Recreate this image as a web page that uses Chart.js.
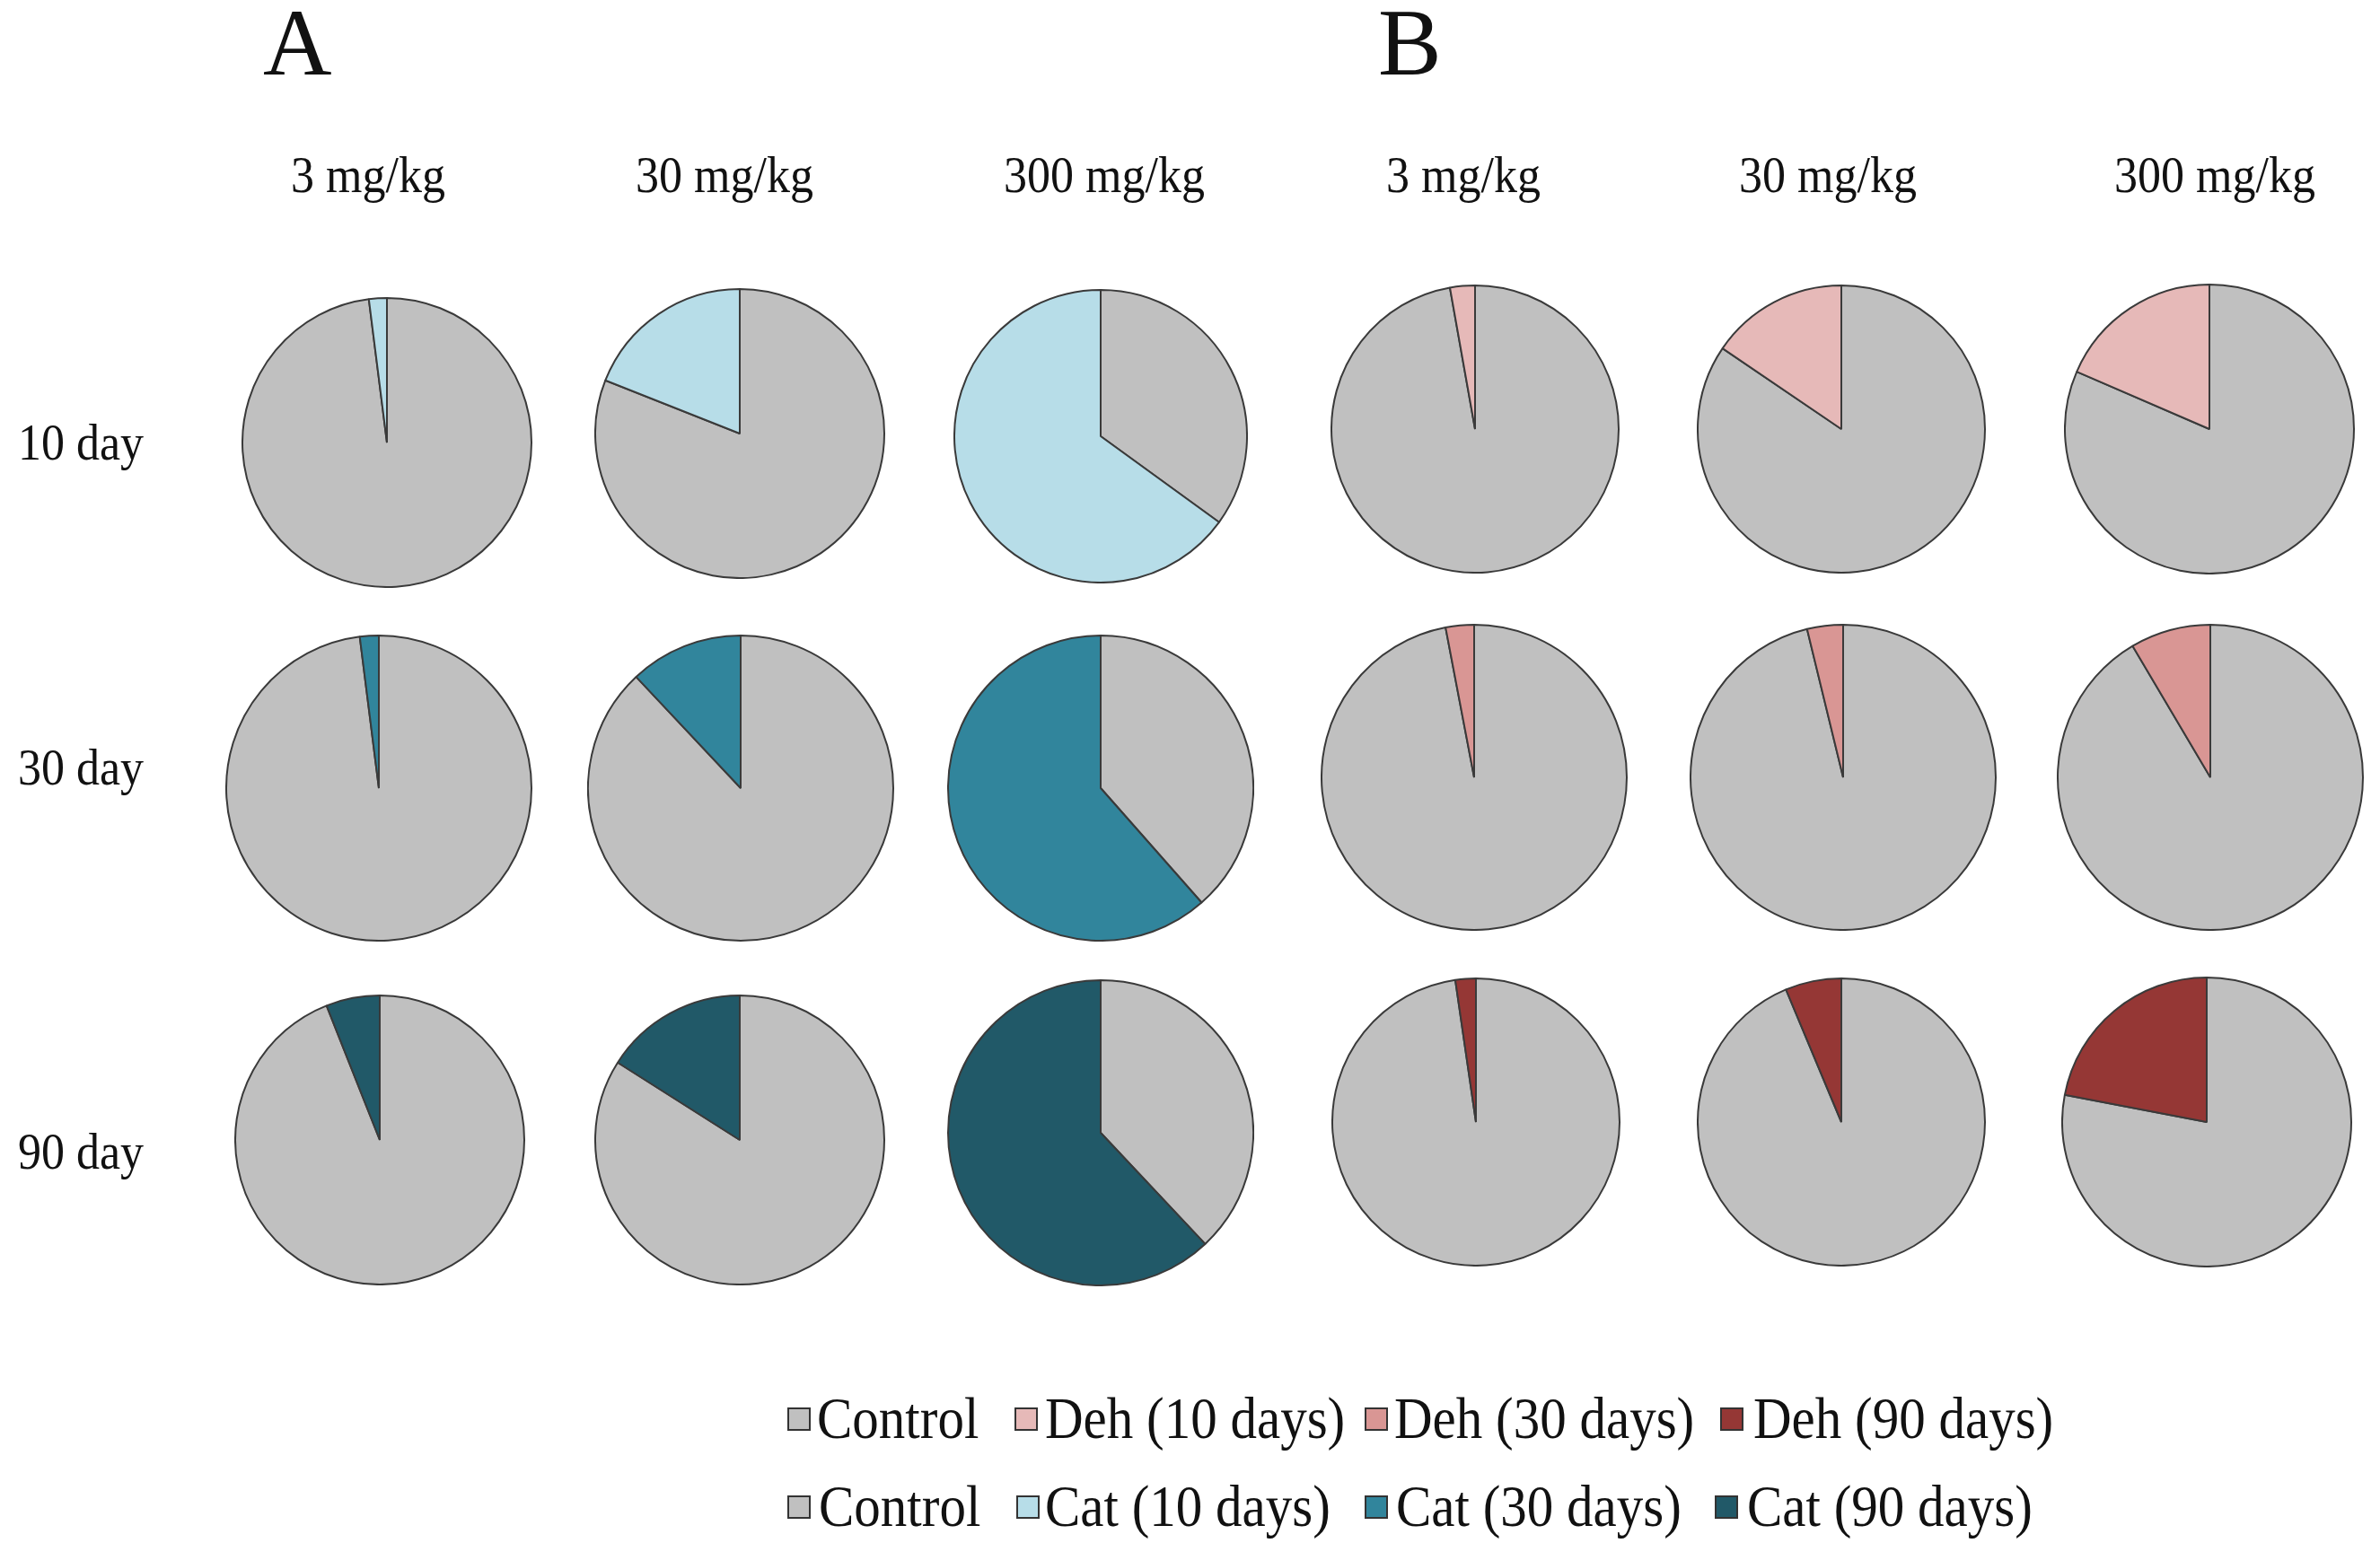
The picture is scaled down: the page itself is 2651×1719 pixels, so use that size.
<!DOCTYPE html>
<html>
<head>
<meta charset="utf-8">
<script src="https://cdn.jsdelivr.net/npm/chart.js@4/dist/chart.umd.min.js"></script>
<style>
  html, body { margin: 0; padding: 0; background: #fff; }
  #page { position: relative; width: 2651px; height: 1719px; overflow: hidden; background: #fff; }
  .txt { position: absolute; white-space: nowrap; line-height: 1; color: #111;
         font-family: 'Liberation Serif', 'Times New Roman', serif; transform-origin: 0 83.75%; }
  .pie { position: absolute; }
  .sw { position: absolute; width: 26px; height: 26px; border: 2px solid #333; box-sizing: border-box; }
</style>
</head>
<body>
<div id="page"></div>
<script>
// column headers and row labels
var doses = ['3 mg/kg', '30 mg/kg', '300 mg/kg'];
var days = ['10 day', '30 day', '90 day'];

// percentage of treated slice per dose (3, 30, 300 mg/kg); control is the rest
var cat10 = [2, 19, 65];
var cat30 = [2, 12, 61.5];
var cat90 = [6, 16, 62];
var deh10 = [2.8, 15.5, 18.5];
var deh30 = [3, 3.8, 8.5];
var deh90 = [2.3, 6.3, 22];

var dehLegend = ['Control', 'Deh (10 days)', 'Deh (30 days)', 'Deh (90 days)'];
var catLegend = ['Control', 'Cat (10 days)', 'Cat (30 days)', 'Cat (90 days)'];

var grey = '#c0c0c0';
var catColors = ['#b7dde8', '#31859c', '#215968'];
var dehColors = ['#e6b9b8', '#d99694', '#953735'];

var page = document.getElementById('page');

function text(str, x, baseline, size, sy) {
  var d = document.createElement('div');
  d.className = 'txt';
  d.textContent = str;
  d.style.fontSize = size + 'px';
  d.style.left = x + 'px';
  d.style.top = (baseline - 0.8375 * size) + 'px';
  if (sy) d.style.transform = 'scaleY(' + sy + ')';
  page.appendChild(d);
  return d;
}

// panel letters
text('A', 293, 84, 106);
text('B', 1535, 84, 106);

// pie centres / radii per row, A columns then B columns
var cx = [[431, 824, 1226, 1643, 2051, 2461],
          [422, 825, 1226, 1642, 2053, 2462],
          [423, 824, 1226, 1644, 2051, 2458]];
var cy = [[493, 483, 486, 478, 478, 478],
          [878, 878, 878, 866, 866, 866],
          [1270, 1270, 1262, 1250, 1250, 1250]];
var rad = [[161, 161, 163, 160, 160, 161],
           [170, 170, 170, 170, 170, 170],
           [161, 161, 170, 160, 160, 161]];

var headerX = [410, 807, 1230, 1630, 2036, 2467];
for (var c = 0; c < 6; c++) {
  var h = text(doses[c % 3], 0, 215, 52, 1.1);
  h.style.left = (headerX[c] - h.offsetWidth / 2) + 'px';
}
var rowBase = [513, 875, 1303];
days.forEach(function (d, i) { text(d, 20, rowBase[i], 52, 1.1); });

var catRows = [cat10, cat30, cat90];
var dehRows = [deh10, deh30, deh90];

function pie(x, y, r, value, color) {
  var size = 2 * r + 2;
  var cv = document.createElement('canvas');
  cv.className = 'pie';
  cv.width = size; cv.height = size;
  cv.style.left = (x - size / 2) + 'px';
  cv.style.top = (y - size / 2) + 'px';
  cv.style.width = size + 'px'; cv.style.height = size + 'px';
  page.appendChild(cv);
  new Chart(cv, {
    type: 'pie',
    data: {
      labels: ['Control', 'Treated'],
      datasets: [{
        data: [100 - value, value],
        backgroundColor: [grey, color],
        borderColor: '#3a3a3a',
        borderWidth: 2
      }]
    },
    options: {
      responsive: false,
      animation: false,
      layout: { padding: 0 },
      plugins: { legend: { display: false }, tooltip: { enabled: false } }
    }
  });
}

for (var row = 0; row < 3; row++) {
  for (var k = 0; k < 3; k++) {
    pie(cx[row][k], cy[row][k], rad[row][k], catRows[row][k], catColors[row]);
    pie(cx[row][k + 3], cy[row][k + 3], rad[row][k + 3], dehRows[row][k], dehColors[row]);
  }
}

// legends
function legendRow(labels, colors, swX, txtX, baseline) {
  labels.forEach(function (lab, i) {
    var s = document.createElement('div');
    s.className = 'sw';
    s.style.left = swX[i] + 'px';
    s.style.top = (baseline - 34) + 'px';
    s.style.background = colors[i];
    page.appendChild(s);
    text(lab, txtX[i], baseline, 59, 1.12);
  });
}
legendRow(dehLegend, [grey].concat(dehColors), [877, 1130, 1520, 1916], [910, 1164, 1553, 1953], 1602);
legendRow(catLegend, [grey].concat(catColors), [877, 1132, 1520, 1910], [912, 1164, 1555, 1946], 1700);
</script>
</body>
</html>
